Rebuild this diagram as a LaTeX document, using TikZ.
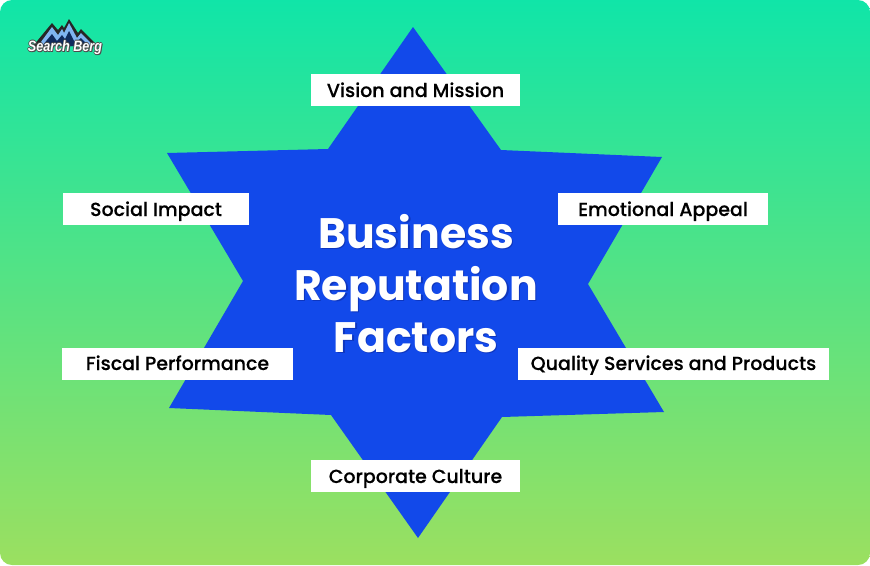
\documentclass[tikz,border=0pt]{standalone}
\usepackage{graphicx}
\usepackage{fontspec}
\newfontfamily\popm{Poppins Medium}[FakeBold=0.15]
\newfontfamily\popb{Poppins}[UprightFont=*-Bold]
\newfontfamily\logof{Liberation Sans}[UprightFont=*,BoldFont=* Bold,ItalicFont=* Italic,BoldItalicFont=* Bold Italic]
\definecolor{startop}{HTML}{1249EA}
\definecolor{gradtop}{HTML}{10E5A8}
\definecolor{gradbot}{HTML}{9BE060}
\definecolor{shadowblue}{HTML}{0E36BE}
\definecolor{logonavy}{HTML}{0F2A5C}
\definecolor{logoblue}{HTML}{7FB4F0}
\tikzset{
  x=1pt,y=-1pt,
  factor/.style={fill=white,inner sep=0pt,font=\popm\fontsize{19}{19}\selectfont,text=black,anchor=center,minimum height=32pt,text height=23pt,text depth=9pt},
  factorhigh/.style={factor,text height=22pt,text depth=10pt},
  titletext/.style={font=\popb\fontsize{42.6}{42.6}\selectfont,anchor=center,inner sep=0pt,text height=41pt,text depth=11pt},
  logotext/.style={font=\logof\bfseries\itshape\fontsize{15}{15}\selectfont,inner sep=0pt},
}
\newcommand{\logoword}{\scalebox{0.84}[1]{Search Berg}}
\begin{document}
\begin{tikzpicture}
\useasboundingbox (0,0) rectangle (870,565);
\fill[white] (0,0) rectangle (870,565);
\shade[top color=gradtop,bottom color=gradbot,rounded corners=12pt] (0,0) rectangle (870,565);
% star
\fill[startop] (413,27)--(501,150)--(662,157)--(588,284)--(664,412)--(502,417)--(418,538)--(331,415)--(169,408)--(243,281)--(167,153)--(328,149)--cycle;
% labels
\node[factor,minimum width=209pt] (vision) at (415.5,90) {Vision and Mission};
\node[factor,minimum width=186pt] (social) at (156,209) {Social Impact};
\node[factor,minimum width=210pt] (emotional) at (663,209) {Emotional Appeal};
\node[factorhigh,minimum width=231pt] (fiscal) at (177.5,364) {Fiscal Performance};
\node[factorhigh,minimum width=311pt] (quality) at (673.5,364) {Quality Services and Products};
\node[factor,minimum width=209pt] (culture) at (415.5,476) {Corporate Culture};
% title
\foreach \tx/\ty/\tt in {416/233/Business,416/285/Reputation,416/337/Factors}{
  \node[titletext,text=shadowblue] at (\tx+1.5,\ty+1.5) {\tt};
}
\node[titletext,text=white] (t1) at (416,233) {Business};
\node[titletext,text=white] (t2) at (416,285) {Reputation};
\node[titletext,text=white] (t3) at (416,337) {Factors};
% logo
\fill[black!85] (33,46)--(52,23)--(58,30)--(62,25)--(64,28)--(69,19)--(78,33)--(81,29)--(98,46)--cycle;
\fill[logoblue] (38,46)--(52,27)--(58,35)--(62,29)--(64,33)--(69,23)--(77,38)--(81,33)--(94,46)--cycle;
\fill[logonavy] (42,46)--(52,34)--(57,41)--(62,35)--(65,39)--(69,31)--(75,43)--(81,38)--(89,46)--cycle;
\foreach \ox/\oy in {-.7/0,.7/0,0/-.7,0/.7,.9/.9}{
  \node[logotext,text=black!70] at (65+\ox,47.5+\oy) {\logoword};
}
\node[logotext,text=white] (logo) at (65,47.5) {\logoword};
\end{tikzpicture}
\end{document}
